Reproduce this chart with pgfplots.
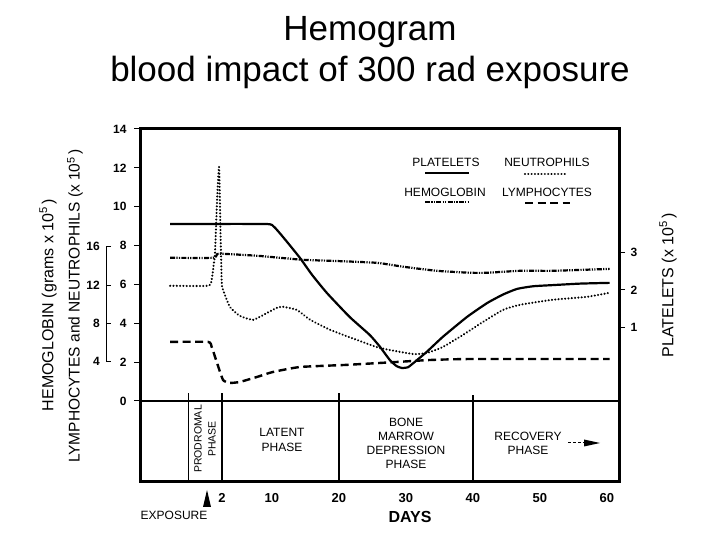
\documentclass[border=0pt]{standalone}
\usepackage{pgfplots}
\pgfplotsset{compat=1.18}
\usepackage{pgfplotstable}
\usepackage{fontspec}
\setmainfont{Liberation Sans}

\pgfplotstableread{
day val
-5.2 3.76
9.0 3.76
10.2 3.70
11.0 3.55
12.4 3.25
14.2 2.85
16.0 2.40
18.2 1.92
21.6 1.28
24.6 0.80
26.1 0.49
27.6 0.13
28.6 -0.03
29.4 -0.08
30.3 -0.06
31.1 0.05
33.1 0.35
35.5 0.75
39.1 1.28
42.1 1.65
44.5 1.88
46.6 2.03
49.0 2.10
51.9 2.13
56.0 2.17
60.4 2.19
}\platelets

\pgfplotstableread{
day val
-5.2 7.37
1.2 7.37
1.8 7.55
2.5 7.58
8.0 7.47
14.5 7.27
20.0 7.20
25.7 7.11
29.6 6.91
34.6 6.70
39.6 6.60
42.1 6.60
47.0 6.70
51.9 6.70
60.4 6.80
}\hemoglobin

\pgfplotstableread{
day val
-5.2 5.93
0.45 5.93
1.0 6.24
1.3 7.01
1.5 7.63
1.8 10.3
2.1 12.05
2.3 9.0
2.5 6.1
2.7 5.72
3.7 4.85
5.2 4.38
7.2 4.18
9.3 4.54
10.7 4.79
11.6 4.85
13.7 4.69
15.7 4.18
18.7 3.66
22.7 3.14
26.1 2.73
31.0 2.42
33.1 2.47
35.5 2.78
38.5 3.40
41.5 4.07
44.5 4.69
47.0 4.95
51.9 5.21
57.0 5.36
60.4 5.57
}\neutrophils

\pgfplotstableread{
day val
-5.2 3.04
0.45 3.04
1.0 2.78
1.8 1.96
2.7 1.08
3.7 0.93
5.2 0.98
7.8 1.24
10.1 1.49
14.2 1.75
21.2 1.86
28.7 2.01
33.6 2.11
39.6 2.16
60.4 2.16
}\lymphocytes

\tikzset{
  plt/.style={line width=2.2pt},
  neu/.style={line width=2.3pt, line cap=round, dash pattern=on 0.01pt off 3.3pt},
  hem/.style={line width=2.2pt, dash pattern=on 5pt off 1.3pt on 1.2pt off 1.3pt on 1.2pt off 1.3pt},
  lym/.style={line width=2.4pt, dash pattern=on 8pt off 4.5pt},
}

\begin{document}
\begin{tikzpicture}
\useasboundingbox (0pt,0pt) rectangle (720pt,540pt);
\begin{axis}[
  at={(140pt,58pt)}, anchor=south west, scale only axis,
  width=479pt, height=353pt,
  xmin=-9.7, xmax=61.8, ymin=-4.17, ymax=14,
  axis line style={line width=3pt},
  /pgf/number format/assume math mode=true,
  xtick={2.54,10,20,30,40,50,60},
  xticklabels={2,10,20,30,40,50,60},
  xtick style={draw=none},
  xtick pos=left, ytick pos=left,
  ytick={0,2,...,14},
  tick align=outside, major tick length=6pt,
  ytick style={line width=1pt, black},
  xticklabel style={font=\bfseries\fontsize{13}{13}\selectfont, yshift=-2pt},
  yticklabel style={font=\bfseries\fontsize{12}{12}\selectfont, xshift=-4pt},
  clip=false,
]
\addplot[hem, no marks, smooth, tension=0.3] table[x=day,y=val] {\hemoglobin};
\addplot[neu, no marks, smooth, tension=0.3] table[x=day,y=val] {\neutrophils};
\addplot[lym, no marks, smooth, tension=0.3] table[x=day,y=val] {\lymphocytes};
\draw[line width=2pt] (axis cs:-9.7,0) -- (axis cs:61.8,0);
\draw[line width=1pt] (axis cs:-2.39,-4.17) -- (axis cs:-2.39,0.4);
\draw[line width=2pt] (axis cs:2.54,-4.17) -- (axis cs:2.54,0.4);
\draw[line width=1.2pt] (axis cs:20,-4.17) -- (axis cs:20,0.4);
\draw[line width=1.2pt] (axis cs:40,-4.17) -- (axis cs:40,0.3);
\end{axis}
\begin{axis}[
  at={(140pt,58pt)}, anchor=south west, scale only axis,
  width=479pt, height=353pt,
  xmin=-9.7, xmax=61.8, ymin=-3.12, ymax=6.293,
  axis x line=none, axis y line*=right,
  axis line style={line width=3pt},
  /pgf/number format/assume math mode=true,
  ytick={1,2,3},
  tick align=outside, major tick length=6pt,
  ytick style={line width=1pt, black},
  yticklabel style={font=\bfseries\fontsize{12}{12}\selectfont, xshift=2pt},
]
\addplot[plt, no marks, smooth, tension=0.3] table[x=day,y=val] {\platelets};
\end{axis}

\begin{scope}[x=1pt,y=1pt]
% Title
\node[anchor=base, font=\fontsize{35}{40}\selectfont] at (370,499) {Hemogram};
\node[anchor=base, font=\fontsize{35}{40}\selectfont] at (370,458) {blood impact of 300 rad exposure};

% left axis labels
\node[rotate=90, font=\fontsize{16}{16}\selectfont] at (48,235) {HEMOGLOBIN (grams x 10\textsuperscript{5}\,)};
\node[rotate=90, font=\fontsize{15.5}{16}\selectfont] at (75,234) {LYMPHOCYTES and NEUTROPHILS (x 10\textsuperscript{5}\,)};
\node[rotate=90, font=\fontsize{16}{16}\selectfont] at (668,255) {PLATELETS (x 10\textsuperscript{5}\,)};

% hemoglobin secondary scale
\draw[line width=0.8pt] (111,294) -- (106,294) -- (106,179) -- (111,179);
\draw[line width=0.8pt] (106,255) -- (111,255);
\draw[line width=0.8pt] (106,217) -- (111,217);
\foreach \yy/\lab in {294/16, 255/12, 217/8, 179/4}
  \node[anchor=east, font=\bfseries\fontsize{12}{12}\selectfont, inner sep=0pt] at (100,\yy) {\lab};

% legend
\node[anchor=base, font=\fontsize{12}{12}\selectfont] at (446,373) {PLATELETS};
\node[anchor=base, font=\fontsize{12}{12}\selectfont] at (547,373) {NEUTROPHILS};
\node[anchor=base, font=\fontsize{12}{12}\selectfont] at (445,343) {HEMOGLOBIN};
\node[anchor=base, font=\fontsize{12}{12}\selectfont] at (547,343) {LYMPHOCYTES};
\draw[plt] (425,367) -- (469,367);
\draw[neu] (525,366) -- (567,366);
\draw[hem] (425,338) -- (470,338);
\draw[lym] (525,337) -- (570,337);

% phase labels
\node[rotate=90, align=center, font=\fontsize{10.5}{14}\selectfont] at (205,101) {PRODROMAL\\PHASE};
\node[align=center, font=\fontsize{12}{15}\selectfont] at (282,100) {LATENT\\PHASE};
\node[align=center, font=\fontsize{12}{14}\selectfont] at (406,97) {BONE\\MARROW\\DEPRESSION\\PHASE};
\node[align=center, font=\fontsize{12}{14}\selectfont] at (528,97) {RECOVERY\\PHASE};
\draw[line width=1pt, dash pattern=on 3pt off 2pt] (568,97) -- (585,97);
\fill (584,100.5) -- (600,97) -- (584,93.5) -- cycle;

% x axis extras
\node[font=\bfseries\fontsize{16}{16}\selectfont] at (410,23) {DAYS};
\node[font=\fontsize{12}{12}\selectfont] at (174,25) {EXPOSURE};
\fill (207,50) -- (211,33) -- (203,33) -- cycle;
\end{scope}
\end{tikzpicture}
\end{document}
